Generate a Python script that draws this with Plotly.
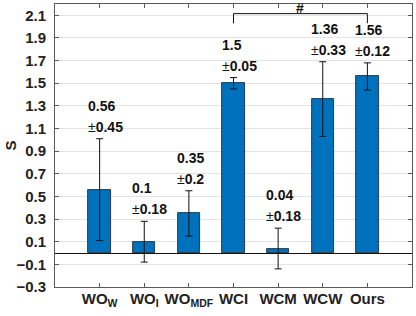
import plotly.graph_objects as go

categories = ["WO<sub>W</sub>", "WO<sub>I</sub>", "WO<sub>MDF</sub>", "WCI", "WCM", "WCW", "Ours"]
means = [0.56, 0.1, 0.35, 1.5, 0.04, 1.36, 1.56]
stds = [0.45, 0.18, 0.2, 0.05, 0.18, 0.33, 0.12]
y_ticks = [-0.3, -0.1, 0.1, 0.3, 0.5, 0.7, 0.9, 1.1, 1.3, 1.5, 1.7, 1.9, 2.1]
bracket_pair = (3, 6)  # indices: WCI .. Ours
bracket_level = 2.115
bracket_drop = 0.085
bracket_label = "#"

FONT = "Liberation Sans, Arial, sans-serif"
BLUE = "#0072BD"
AXIS = "#5a5a5a"
x_pos = list(range(1, len(categories) + 1))

fig = go.Figure()
fig.add_trace(go.Bar(
    x=x_pos, y=means, width=0.5,
    marker=dict(color=BLUE, line=dict(color="#1a1a1a", width=0.8)),
    error_y=dict(type="data", array=stds, visible=True, color="#111111",
                 thickness=1, width=3.5),
    showlegend=False, hoverinfo="skip",
))

annotations = []
for xi, m, s in zip(x_pos, means, stds):
    top = m + s
    annotations.append(dict(x=xi, y=top, xref="x", yref="y", text=f"<b>{m}</b>",
                            showarrow=False, xanchor="left", yanchor="middle",
                            xshift=-13, yshift=33, borderpad=0,
                            font=dict(family=FONT, size=14, color="#111111")))
    annotations.append(dict(x=xi, y=top, xref="x", yref="y", text=f"±<b>{s}</b>",
                            showarrow=False, xanchor="left", yanchor="middle",
                            xshift=-13, yshift=12, borderpad=0,
                            font=dict(family=FONT, size=14, color="#111111")))

xa, xb = x_pos[bracket_pair[0]], x_pos[bracket_pair[1]]
for x0, x1, y0, y1 in [(xa, xa, bracket_level - bracket_drop, bracket_level),
                       (xa, xb, bracket_level, bracket_level),
                       (xb, xb, bracket_level - bracket_drop, bracket_level)]:
    fig.add_shape(type="line", xref="x", yref="y", x0=x0, x1=x1, y0=y0, y1=y1,
                  line=dict(color="#111111", width=1))
annotations.append(dict(x=(xa + xb) / 2, y=bracket_level, xref="x", yref="y",
                        text="<b>" + bracket_label + "</b>", showarrow=False,
                        xanchor="center", yanchor="middle", yshift=6,
                        font=dict(family=FONT, size=14, color="#111111")))

annotations.append(dict(x=0, y=0.5, xref="paper", yref="paper", text="<b>S</b>",
                        showarrow=False, textangle=-90, xanchor="center",
                        yanchor="middle", xshift=-45,
                        font=dict(family=FONT, size=15, color="#222222")))

fig.update_layout(
    width=416, height=316,
    margin=dict(l=55, r=4, t=4, b=29),
    paper_bgcolor="white", plot_bgcolor="white",
    font=dict(family=FONT, size=14, color="#222222"),
    annotations=annotations,
    bargap=0,
)
fig.update_xaxes(
    range=[0, len(categories) + 1], tickvals=x_pos, ticktext=categories,
    tickfont=dict(family=FONT, size=15, color="#222222", weight="bold"),
    showline=True, linecolor=AXIS, linewidth=1, mirror="ticks",
    ticks="inside", ticklen=4, tickcolor=AXIS,
    showgrid=False, zeroline=False, automargin=False, ticklabelstandoff=-2,
)
fig.update_yaxes(
    range=[-0.3, 2.2], tickvals=y_ticks, tickformat=".1f",
    tickfont=dict(family=FONT, size=15, color="#222222", weight="bold"),
    showline=True, linecolor=AXIS, linewidth=1, mirror="ticks",
    ticks="inside", ticklen=4, tickcolor=AXIS,
    showgrid=True, gridcolor="#e3e3e3", gridwidth=1,
    zeroline=True, zerolinecolor="#111111", zerolinewidth=1,
    automargin=False, ticklabelstandoff=5,
)

fig.write_html("out.html", config={"displayModeBar": False},
               post_script="document.body.style.margin='0';document.body.style.padding='0';")
